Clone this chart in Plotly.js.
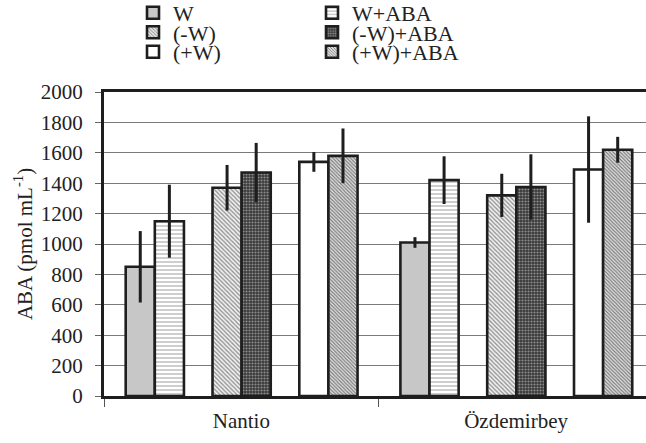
<!DOCTYPE html>
<html><head><meta charset="utf-8">
<script src="https://cdn.plot.ly/plotly-3.0.1.min.js"></script>
<style>html,body{margin:0;padding:0;overflow:hidden;background:#fff}</style>
</head><body><div id="chart" style="width:646px;height:443px"></div>
<script>
const categories = ['Nantio', 'Özdemirbey'];
const seriesNames = ['W', 'W+ABA', '(-W)', '(-W)+ABA', '(+W)', '(+W)+ABA'];
const valW = [850, 1010];
const errW = [235, 35];
const valWABA = [1150, 1420];
const errWABA = [240, 157];
const valMinusW = [1370, 1320];
const errMinusW = [150, 142];
const valMinusWABA = [1470, 1375];
const errMinusWABA = [195, 215];
const valPlusW = [1540, 1490];
const errPlusW = [65, 350];
const valPlusWABA = [1580, 1620];
const errPlusWABA = [180, 85];
const yTicks = [0, 200, 400, 600, 800, 1000, 1200, 1400, 1600, 1800, 2000];

const values = [valW, valWABA, valMinusW, valMinusWABA, valPlusW, valPlusWABA];
const errors = [errW, errWABA, errMinusW, errMinusWABA, errPlusW, errPlusWABA];
const barW = 0.106;
const centers = [-0.368, -0.262, -0.052, 0.054, 0.264, 0.370];
const patterns = [
  {shape: '|', bgcolor: '#dedede', fgcolor: '#ababab', size: 2, solidity: 0.45},
  {shape: '-', bgcolor: '#ffffff', fgcolor: '#a8a8a8', size: 4, solidity: 0.28},
  {shape: '\\', bgcolor: '#f0f0f0', fgcolor: '#8c8c8c', size: 3, solidity: 0.4},
  {shape: '.', bgcolor: '#383838', fgcolor: '#8e8e8e', size: 3, solidity: 0.4},
  {shape: '', bgcolor: '#ffffff', fgcolor: '#ffffff', size: 4, solidity: 0.3},
  {shape: '\\', bgcolor: '#e2e2e2', fgcolor: '#7a7a7a', size: 2.5, solidity: 0.45}
];
const legendPos = [
  {x: 133, y: 13}, {x: 312, y: 13},
  {x: 133, y: 32.5}, {x: 312, y: 32.5},
  {x: 133, y: 52}, {x: 312, y: 52}
];
const W = 646, H = 443, L = 104, T = 92, B = 47, R = 0;
const pw = W - L - R, ph = H - T - B;
const FONT = 'Liberation Serif, Times New Roman, serif';

const traces = seriesNames.map((name, i) => ({
  type: 'bar',
  name: name,
  x: categories,
  y: values[i],
  offset: centers[i] - barW / 2,
  width: barW,
  marker: {color: patterns[i].bgcolor, line: {color: '#1e1e1e', width: 2.6}, pattern: Object.assign({fillmode: 'replace'}, patterns[i])},
  error_y: {type: 'data', array: errors[i], visible: true, color: '#1e1e1e', thickness: 3, width: 0},
  legend: i === 0 ? 'legend' : 'legend' + (i + 1),
  showlegend: true
}));

const layout = {
  width: W, height: H,
  margin: {l: L, r: R, t: T, b: B, pad: 0, autoexpand: false},
  paper_bgcolor: '#fff', plot_bgcolor: '#fff',
  barmode: 'overlay',
  font: {family: FONT, size: 21, color: '#222'},
  xaxis: {
    type: 'category', range: [-0.5, -0.5 + pw / 274.7], automargin: false, tickangle: 0,
    showline: true, linecolor: '#1e1e1e', linewidth: 3, mirror: true,
    ticks: 'outside', tickson: 'boundaries', ticklen: 8, tickcolor: '#555', tickwidth: 1,
    showgrid: false, tickfont: {family: FONT, size: 21}, ticklabelstandoff: 4
  },
  yaxis: {
    range: [0, 2000], tickvals: yTicks, showline: true, linecolor: '#1e1e1e', linewidth: 3, automargin: false,
    ticks: 'outside', ticklen: 6, tickcolor: '#666', tickwidth: 1,
    showgrid: true, gridcolor: '#7a7a7a', gridwidth: 1, zeroline: false,
    tickfont: {family: FONT, size: 21}, ticklabelstandoff: 8,
    title: {text: 'ABA (pmol mL<sup>-1</sup>)', font: {family: FONT, size: 21}, standoff: 3}
  }
};
legendPos.forEach((p, i) => {
  const key = i === 0 ? 'legend' : 'legend' + (i + 1);
  layout[key] = {
    x: (p.x - L) / pw, y: (H - B - p.y) / ph, xanchor: 'left', yanchor: 'middle',
    orientation: 'v', bgcolor: 'rgba(0,0,0,0)', borderwidth: 0,
    font: {family: FONT, size: 22, color: '#222'}, itemwidth: 30
  };
});
Plotly.newPlot('chart', traces, layout, {staticPlot: true});
</script></body></html>
